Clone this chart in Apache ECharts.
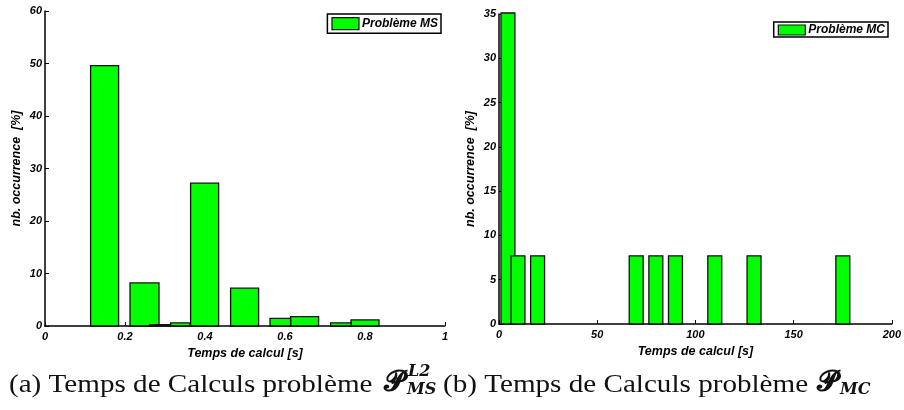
<!DOCTYPE html>
<html><head><meta charset="utf-8">
<script src="https://cdn.jsdelivr.net/npm/echarts@6/dist/echarts.min.js"></script>
<style>html,body{margin:0;padding:0;background:#fff}#c{width:904px;height:410px}</style>
</head><body><div id="c"></div>
<script>
// Left chart (Problème MS): bins [start, end] in seconds and occurrence %
const msBinStart = [0.114, 0.2125, 0.364, 0.464, 0.614, 0.765, 0.2625, 0.314, 0.5625, 0.714];
const msBinEnd   = [0.184, 0.285, 0.434, 0.534, 0.684, 0.835, 0.314, 0.3625, 0.614, 0.765];
const msPct      = [49.6, 8.2, 27.2, 7.2, 1.8, 1.15, 0.25, 0.6, 1.45, 0.6];
// Right chart (Problème MC)
const mcBinStart = [1.0, 6.1, 16.1, 66.3, 76.3, 86.3, 106.3, 126.3, 171.5];
const mcBinEnd   = [8.1, 13.2, 23.2, 73.4, 83.4, 93.4, 113.4, 133.4, 178.6];
const mcPct      = [38.5, 7.7, 7.7, 7.7, 7.7, 7.7, 7.7, 7.7, 7.7];
const msTicks = {min: 0, max: 1, interval: 0.2};
const mcTicks = {min: 0, max: 200, interval: 50};
const msY = {min: 0, max: 60, interval: 10};
const mcY = {min: 0, max: 35, interval: 5};
const xName = 'Temps de calcul [s]';
const yName = 'nb. occurrence  [%]';
const seriesNames = ['Problème MS', 'Problème MC'];

const GREEN = '#00ff00', EDGE = '#111';
const FONT = 'Liberation Sans';
function build(a, b, c) { return a.map((v, i) => [v, b[i], c[i]]); }
function renderBar(params, api) {
  const p0 = api.coord([api.value(0), api.value(2)]);
  const p1 = api.coord([api.value(1), 0]);
  const cs = params.coordSys;
  const rect = echarts.graphic.clipRectByRect(
    {x: p0[0], y: p0[1], width: p1[0] - p0[0], height: p1[1] - p0[1]},
    {x: cs.x - 2, y: cs.y - 1, width: cs.width + 4, height: cs.height + 3});
  if (!rect) return null;
  return {type: 'rect', shape: rect, style: {fill: GREEN, stroke: EDGE, lineWidth: 1.3}};
}
const axisLabel = {color: '#000', fontFamily: FONT, fontWeight: 'bold', fontStyle: 'italic', fontSize: 11};
const nameStyle = {color: '#000', fontFamily: FONT, fontWeight: 'bold', fontStyle: 'italic', fontSize: 12.5};
function xAxis(idx, t) {
  return Object.assign({type: 'value', gridIndex: idx, name: xName, nameLocation: 'middle', nameGap: 11,
    nameTextStyle: nameStyle,
    axisLine: {show: true, lineStyle: {color: '#000', width: 1.5}},
    axisTick: {show: true, inside: true, length: 4, lineStyle: {color: '#000'}},
    axisLabel: Object.assign({margin: 5}, axisLabel), splitLine: {show: false}}, t);
}
function yAxis(idx, t) {
  return Object.assign({type: 'value', gridIndex: idx, name: yName, nameLocation: 'middle', nameGap: 22,
    nameTextStyle: nameStyle,
    axisLine: {show: true, lineStyle: {color: '#000', width: 1.5}},
    axisTick: {show: true, inside: true, length: 4, lineStyle: {color: '#000'}},
    axisLabel: Object.assign({margin: 3}, axisLabel), splitLine: {show: false}}, t);
}
const legendBase = {orient: 'horizontal', backgroundColor: '#fff', borderColor: '#000', borderWidth: 1.5,
  itemWidth: 27, icon: 'rect', itemGap: 0,
  textStyle: {color: '#000', fontFamily: FONT, fontWeight: 'bold', fontStyle: 'italic', fontSize: 12, padding: [0, 0, 0, -2]},
  itemStyle: {color: GREEN, borderColor: EDGE, borderWidth: 1.2}};
const capFont = '26px "Liberation Serif"';
const supFont = 'bold italic 16px "DejaVu Serif"';
const scriptP = 'bold 28px "DejaVu Serif"';
const option = {
  animation: false,
  grid: [
    {left: 45, right: 459, top: 11, bottom: 84},
    {left: 499, right: 12, top: 14, bottom: 86}
  ],
  xAxis: [xAxis(0, msTicks), xAxis(1, mcTicks)],
  yAxis: [yAxis(0, msY), yAxis(1, mcY)],
  legend: [
    Object.assign({}, legendBase, {data: [seriesNames[0]], right: 463, top: 14, padding: [3, 3, 3, 4], itemHeight: 12}),
    Object.assign({}, legendBase, {data: [seriesNames[1]], right: 16, top: 22, padding: [2, 3, 1, 4], itemHeight: 10})
  ],
  series: [
    {type: 'custom', name: seriesNames[0], xAxisIndex: 0, yAxisIndex: 0, renderItem: renderBar,
     itemStyle: {color: GREEN, borderColor: EDGE}, encode: {x: [0, 1], y: 2},
     data: build(msBinStart, msBinEnd, msPct)},
    {type: 'custom', name: seriesNames[1], xAxisIndex: 1, yAxisIndex: 1, renderItem: renderBar,
     itemStyle: {color: GREEN, borderColor: EDGE}, encode: {x: [0, 1], y: 2},
     data: build(mcBinStart, mcBinEnd, mcPct)}
  ],
  graphic: [
    {type: 'text', x: 9, y: 372, scaleX: 1.12, style: {text: '(a) Temps de Calculs problème', font: capFont, fill: '#111'}},
    {type: 'text', x: 384, y: 369, style: {text: '𝓟', font: scriptP, fill: '#111'}},
    {type: 'text', x: 408, y: 364, style: {text: 'L2', font: supFont, fill: '#111'}},
    {type: 'text', x: 407, y: 382, style: {text: 'MS', font: supFont, fill: '#111'}},
    {type: 'text', x: 443, y: 372, scaleX: 1.12, style: {text: '(b) Temps de Calculs problème', font: capFont, fill: '#111'}},
    {type: 'text', x: 817, y: 369, style: {text: '𝓟', font: scriptP, fill: '#111'}},
    {type: 'text', x: 840, y: 382, style: {text: 'MC', font: supFont, fill: '#111'}}
  ]
};
const chart = echarts.init(document.getElementById('c'), null, {renderer: 'canvas'});
chart.setOption(option);
</script></body></html>
